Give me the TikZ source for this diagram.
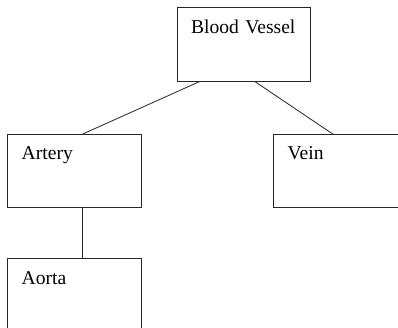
\documentclass[tikz,border=0pt]{standalone}
\usepackage{fontspec}
\setmainfont{Liberation Serif}
\usepackage{tikz}
\usetikzlibrary{positioning}
\definecolor{edge}{RGB}{40,40,40}
\tikzset{
  box/.style={rectangle, draw=edge, line width=0.7pt, anchor=north west,
              minimum width=4cm, minimum height=2.2cm, inner xsep=0.42cm, inner ysep=0pt,
              text width=3.16cm, text height=0.765cm, text depth=1.435cm, align=left,
              font=\fontsize{16.7}{20}\selectfont},
  link/.style={draw=edge, line width=0.7pt},
}
\begin{document}
\begin{tikzpicture}
\useasboundingbox (0,0) rectangle (11.94,-9.84);
% Hierarchia naczyń
\node[box] (vessel) at (5.30, -0.22) {Blood Vessel};
\node[box] (artery) at (0.22, -4.02) {Artery};
\node[box] (vein) at (8.20, -4.02) {Vein};
\node[box] (aorta) at (0.22, -7.75) {Aorta};

% Połączenia rodzic -> dziecko
\draw[link] ([xshift=-1.32cm]vessel.south) -- ([xshift=0.25cm]artery.north);
\draw[link] ([xshift=0.33cm]vessel.south) -- ([xshift=-0.23cm]vein.north);
\draw[link] ([xshift=0.23cm]artery.south) -- ([xshift=0.23cm]aorta.north);
\end{tikzpicture}
\end{document}
